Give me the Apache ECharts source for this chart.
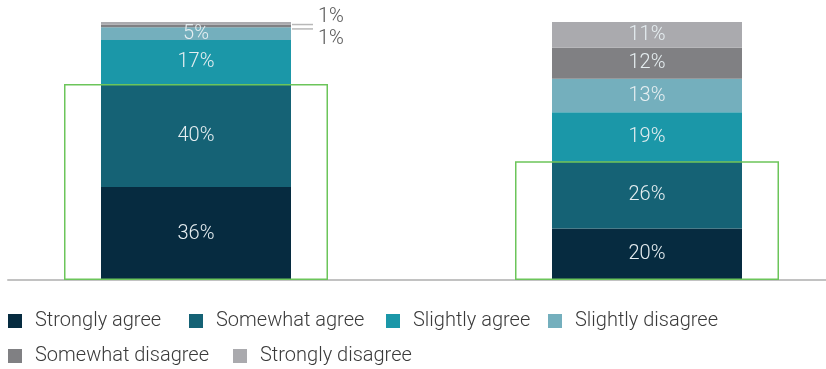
<!DOCTYPE html>
<html>
<head>
<meta charset="utf-8">
<script src="https://cdn.jsdelivr.net/npm/echarts@6/dist/echarts.min.js"></script>
<style>html,body{margin:0;padding:0;background:#fff}#c{width:826px;height:369px}</style>
</head>
<body>
<div id="c"></div>
<script>
const categories = ['Group A', 'Group B'];
const seriesNames = ['Strongly agree', 'Somewhat agree', 'Slightly agree', 'Slightly disagree', 'Somewhat disagree', 'Strongly disagree'];
const stronglyAgree = [36, 20];
const somewhatAgree = [40, 26];
const slightlyAgree = [17, 19];
const slightlyDisagree = [5, 13];
const somewhatDisagree = [1, 12];
const stronglyDisagree = [1, 11];

const values = [stronglyAgree, somewhatAgree, slightlyAgree, slightlyDisagree, somewhatDisagree, stronglyDisagree];
const colors = ['#062b40', '#156275', '#1b97a8', '#74afbd', '#808083', '#aaaaae'];
const agreeTotals = categories.map((c, i) => stronglyAgree[i] + somewhatAgree[i]);

const FONT = 'Roboto';
// leader-line labels for tiny segments: text above (top segment) or below (second segment)
const outsideCfg = {
  5: { dy: -6, lineHeight: 16, lineAlign: 'bottom' },
  4: { dy: 13.3, lineHeight: 22, lineAlign: 'top' }
};

const barSeries = values.map((arr, si) => ({
  name: seriesNames[si],
  type: 'bar',
  stack: 'total',
  barWidth: 190,
  itemStyle: { color: colors[si] },
  label: {
    show: true,
    position: 'inside',
    formatter: '{c}%',
    color: '#e6eef1',
    fontFamily: FONT,
    fontWeight: 300,
    fontSize: 20
  },
  labelLayout: function (p) {
    if (arr[p.dataIndex] <= 1 && outsideCfg[si]) {
      return { dy: outsideCfg[si].dy };
    }
    return {};
  },
  data: arr.map((v) => {
    if (v <= 1 && outsideCfg[si]) {
      const cfg = outsideCfg[si];
      return {
        value: v,
        label: {
          position: 'right',
          distance: 1,
          formatter: (p) => '{l|}{t|' + p.value + '%}',
          rich: {
            l: { width: 21, height: 1.5, backgroundColor: '#b8b8b8', verticalAlign: cfg.lineAlign },
            t: { color: '#555', fontFamily: FONT, fontWeight: 300, fontSize: 20, lineHeight: cfg.lineHeight, padding: [0, 0, 0, 5] }
          }
        }
      };
    }
    return v;
  })
}));

const legendPos = [[8, 321], [189, 321], [386, 321], [548, 321], [8, 356], [233, 356]];
const legends = seriesNames.map((n, i) => ({
  data: [n],
  left: legendPos[i][0],
  top: legendPos[i][1] - 12,
  padding: 0,
  itemWidth: 14,
  itemHeight: 14,
  icon: 'rect',
  itemStyle: { borderWidth: 0 },
  textStyle: { fontFamily: FONT, fontWeight: 300, fontSize: 20, color: '#3a3a3a', padding: [0, 0, 0, 8], lineHeight: 24 }
}));

const chart = echarts.init(document.getElementById('c'), null, { renderer: 'canvas' });
chart.setOption({
  animation: false,
  backgroundColor: '#fff',
  legend: legends,
  grid: [
    { left: -29.5, right: -46.5, top: 22, bottom: 89, outerBoundsMode: 'none', containLabel: false },
    { left: 8, right: 0, top: 22, bottom: 89, outerBoundsMode: 'none' }
  ],
  xAxis: [
    { type: 'category', data: categories, gridIndex: 0, axisLine: { show: false }, axisTick: { show: false }, axisLabel: { show: false } },
    { type: 'category', data: categories, gridIndex: 0, show: false },
    { type: 'value', gridIndex: 1, min: 0, max: 1, axisLine: { show: true, lineStyle: { color: '#c2c2c2', width: 2 } }, axisTick: { show: false }, axisLabel: { show: false }, splitLine: { show: false } }
  ],
  yAxis: [
    { type: 'value', min: 0, max: 100, gridIndex: 0, show: false },
    { type: 'value', min: 0, max: 100, gridIndex: 1, show: false }
  ],
  series: barSeries.concat([{
    name: 'agree box',
    type: 'bar',
    xAxisIndex: 1,
    yAxisIndex: 0,
    barWidth: 264,
    z: 5,
    silent: true,
    itemStyle: { color: 'rgba(0,0,0,0)', borderColor: '#6cc55a', borderWidth: 1.5 },
    data: agreeTotals
  }])
});
</script>
</body>
</html>
